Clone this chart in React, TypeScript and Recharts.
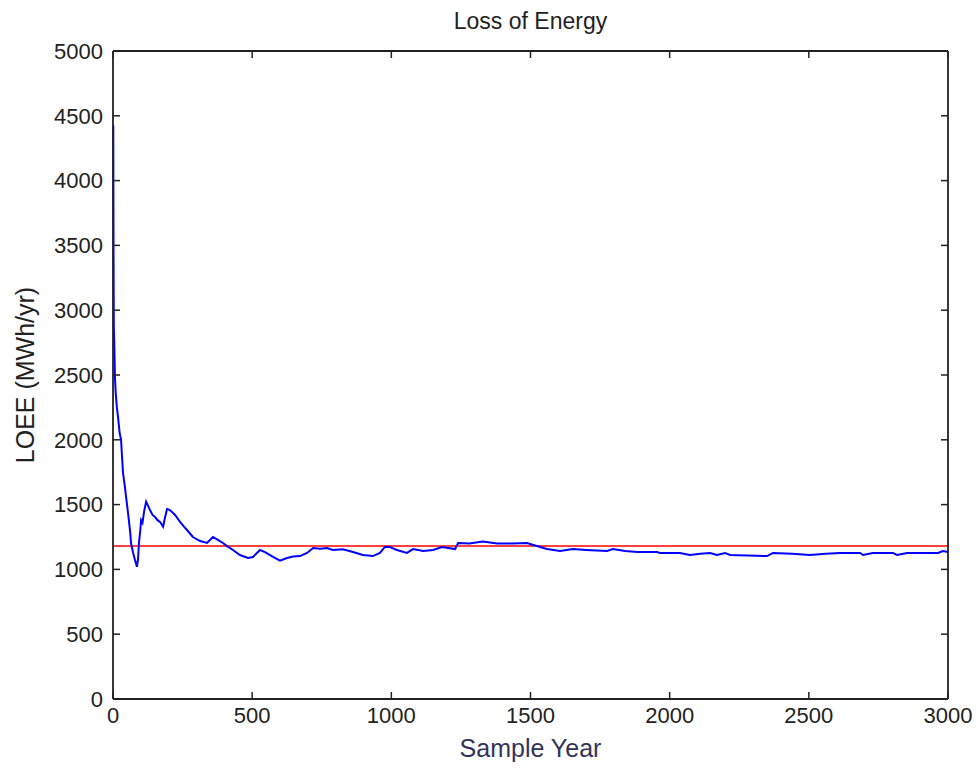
import {
  LineChart,
  Line,
  XAxis,
  YAxis,
  Label,
} from "recharts";

// sample year vs running LOEE estimate
const years = [
  0, 1, 2, 3, 5, 7, 10, 14, 18, 24, 29, 33, 36, 42, 47, 52, 57, 62, 65, 72,
  79, 86, 90, 93, 98, 101, 106, 112, 119, 126, 133, 142, 151, 160, 169, 180,
  187, 194, 203, 212, 223, 241, 255, 266, 287, 313, 338, 359, 377, 395, 410,
  431, 456, 485, 503, 528, 546, 575, 600, 625, 647, 672, 697, 719, 744, 769,
  790, 826, 862, 898, 934, 959, 977, 995, 1020, 1056, 1078, 1114, 1150, 1182,
  1229, 1240, 1280, 1329, 1380, 1437, 1487, 1523, 1559, 1606, 1653, 1700,
  1775, 1796, 1840, 1883, 1955, 1965, 2037, 2073, 2110, 2145, 2170, 2199,
  2217, 2280, 2350, 2371, 2440, 2504, 2560, 2612, 2684, 2695, 2730, 2802,
  2817, 2853, 2920, 2964, 2982, 3000,
];

const loee = [
  4420, 4420, 3400, 2870, 2700, 2480, 2350, 2250, 2176, 2050, 2000, 1850,
  1744, 1650, 1560, 1470, 1380, 1280, 1200, 1130, 1073, 1020, 1080, 1200,
  1300, 1380, 1360, 1450, 1522, 1490, 1458, 1420, 1404, 1380, 1366, 1330,
  1400, 1466, 1460, 1443, 1420, 1366, 1330, 1304, 1250, 1219, 1204, 1250,
  1227, 1204, 1180, 1150, 1111, 1088, 1096, 1150, 1134, 1096, 1068, 1088,
  1100, 1103, 1127, 1165, 1160, 1165, 1150, 1155, 1134, 1111, 1103, 1127,
  1173, 1173, 1150, 1127, 1157, 1142, 1150, 1173, 1157, 1204, 1200, 1215,
  1200, 1200, 1204, 1180, 1157, 1142, 1157, 1150, 1142, 1157, 1142, 1134,
  1134, 1127, 1127, 1111, 1120, 1127, 1111, 1127, 1111, 1108, 1103, 1127,
  1120, 1111, 1120, 1127, 1127, 1111, 1127, 1127, 1111, 1127, 1127, 1127,
  1142, 1134,
];

// mean LOEE over the whole run (red line)
const meanLoee = 1180;
const meanYears = [0, 3000];

const xTicks = [0, 500, 1000, 1500, 2000, 2500, 3000];
const yTicks = [0, 500, 1000, 1500, 2000, 2500, 3000, 3500, 4000, 4500, 5000];

const data = years.map((year, i) => ({ year, loee: loee[i] }));
const meanData = meanYears.map((year) => ({ year, mean: meanLoee }));

const font = "'Liberation Sans', Arial, sans-serif";
const tickStyle = { fontSize: 22, fill: "#222", fontFamily: font };
const axisLine = { stroke: "#222", strokeWidth: 1.8 };
const tickLine = { stroke: "#222", strokeWidth: 1.5 };
const blank = () => "";

// negative tickSize -> ticks point into the plot, matlab style.
// the mean line sits on the top/right axes so they get real ticks too
const App = () => (
  <div style={{ position: "absolute", left: 0, top: 0, background: "#fff" }}>
    <LineChart
      width={979}
      height={775}
      margin={{ top: 50, right: 30, bottom: 36, left: 13 }}
    >
      <XAxis
        xAxisId="b"
        dataKey="year"
        type="number"
        domain={[0, 3000]}
        ticks={xTicks}
        height={40}
        tickSize={-7}
        tickMargin={15}
        tick={tickStyle}
        axisLine={axisLine}
        tickLine={tickLine}
        interval={0}
      >
        <Label
          value="Sample Year"
          position="bottom"
          offset={0}
          style={{ fontSize: 25, fill: "#33335a", fontFamily: font }}
        />
      </XAxis>
      <XAxis
        xAxisId="t"
        orientation="top"
        dataKey="year"
        type="number"
        domain={[0, 3000]}
        ticks={xTicks}
        height={1}
        tickSize={-7}
        tickFormatter={blank}
        axisLine={axisLine}
        tickLine={tickLine}
        interval={0}
      >
        <Label
          value="Loss of Energy"
          position="top"
          offset={21}
          style={{ fontSize: 23, fill: "#222", fontFamily: font }}
        />
      </XAxis>
      <YAxis
        yAxisId="l"
        type="number"
        domain={[0, 5000]}
        ticks={yTicks}
        width={100}
        tickSize={-7}
        tickMargin={17}
        tick={tickStyle}
        axisLine={axisLine}
        tickLine={tickLine}
        interval={0}
      >
        <Label
          value="LOEE (MWh/yr)"
          angle={-90}
          position="insideLeft"
          offset={12}
          style={{ textAnchor: "middle", fontSize: 25, fill: "#222", fontFamily: font }}
        />
      </YAxis>
      <YAxis
        yAxisId="r"
        orientation="right"
        type="number"
        domain={[0, 5000]}
        ticks={yTicks}
        width={1}
        tickSize={-7}
        tickFormatter={blank}
        axisLine={axisLine}
        tickLine={tickLine}
        interval={0}
      />
      <Line
        xAxisId="t"
        yAxisId="r"
        data={meanData}
        dataKey="mean"
        type="linear"
        stroke="#ff0000"
        strokeWidth={1.5}
        dot={false}
        isAnimationActive={false}
      />
      <Line
        xAxisId="b"
        yAxisId="l"
        data={data}
        dataKey="loee"
        type="linear"
        stroke="#0000ff"
        strokeWidth={2}
        dot={false}
        isAnimationActive={false}
      />
    </LineChart>
  </div>
);

export default App;
